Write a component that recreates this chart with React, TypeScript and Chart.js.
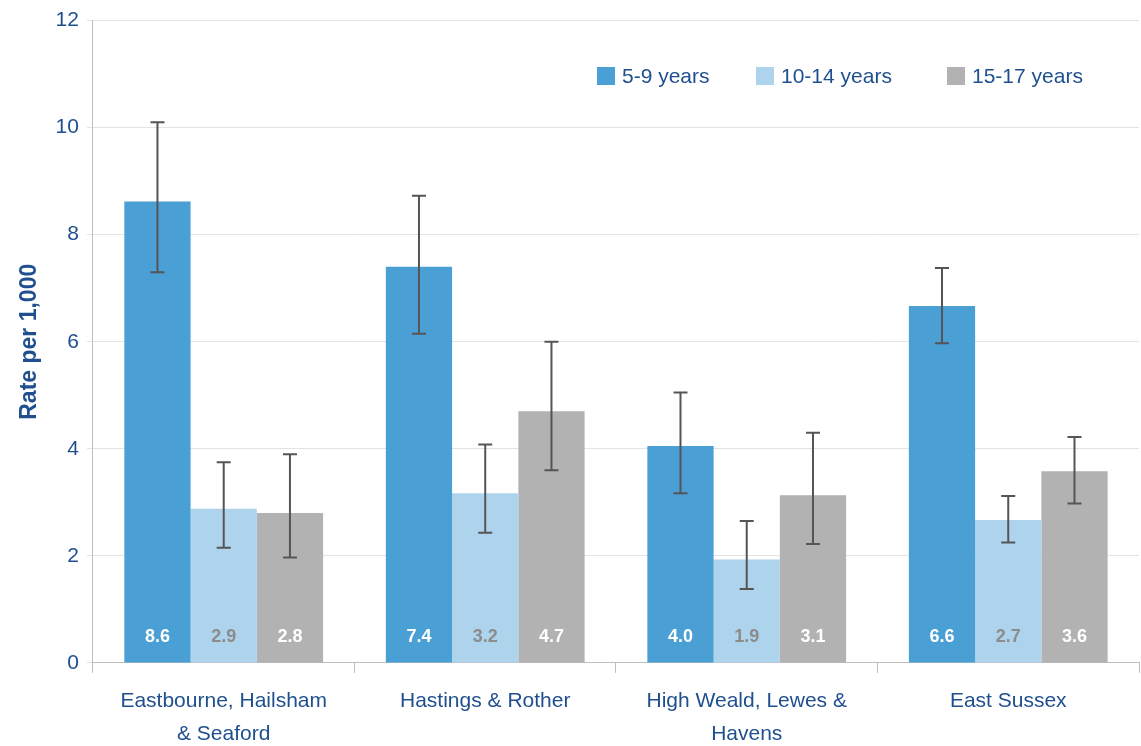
import React, { useEffect, useRef } from "react";
import { Chart, registerables } from "chart.js";
Chart.register(...registerables);

const categories = [["Eastbourne, Hailsham", "& Seaford"], ["Hastings & Rother"], ["High Weald, Lewes &", "Havens"], ["East Sussex"]];
const seriesNames = ["5-9 years", "10-14 years", "15-17 years"];
const values = [
  [8.62, 7.4, 4.05, 6.67],
  [2.88, 3.17, 1.93, 2.67],
  [2.8, 4.7, 3.13, 3.58],
];
const labels = [
  ["8.6", "7.4", "4.0", "6.6"],
  ["2.9", "3.2", "1.9", "2.7"],
  ["2.8", "4.7", "3.1", "3.6"],
];
const lows = [
  [7.3, 6.15, 3.17, 5.97],
  [2.15, 2.43, 1.38, 2.25],
  [1.97, 3.6, 2.22, 2.98],
];
const highs = [
  [10.1, 8.73, 5.05, 7.38],
  [3.75, 4.08, 2.65, 3.12],
  [3.9, 6.0, 4.3, 4.22],
];
const colors = ["#4a9fd5", "#aed3ec", "#b2b2b2"];
const labelColors = ["#ffffff", "#8c8c8c", "#ffffff"];
const axisColor = "#1f4f8f";
const font = "'Liberation Sans', Arial, sans-serif";

const extras = {
  id: "extras",
  afterDatasetsDraw(chart: any) {
    const ctx = chart.ctx;
    const y = chart.scales.y;
    const xs = chart.scales.x;
    ctx.save();
    chart.data.datasets.forEach((ds: any, i: number) => {
      const meta = chart.getDatasetMeta(i);
      meta.data.forEach((bar: any, j: number) => {
        const x = bar.x;
        const yl = y.getPixelForValue(lows[i][j]);
        const yh = y.getPixelForValue(highs[i][j]);
        ctx.strokeStyle = "#555555";
        ctx.lineWidth = 2;
        ctx.beginPath();
        ctx.moveTo(x, yl); ctx.lineTo(x, yh);
        ctx.moveTo(x - 7, yl); ctx.lineTo(x + 7, yl);
        ctx.moveTo(x - 7, yh); ctx.lineTo(x + 7, yh);
        ctx.stroke();
        ctx.fillStyle = labelColors[i];
        ctx.font = `bold 18px ${font}`;
        ctx.textAlign = "center";
        ctx.textBaseline = "middle";
        ctx.fillText(labels[i][j], x, y.getPixelForValue(0) - 26);
      });
    });
    // category labels
    const base = y.getPixelForValue(0);
    ctx.font = `21px ${font}`;
    ctx.fillStyle = axisColor;
    ctx.textAlign = "center";
    ctx.textBaseline = "middle";
    categories.forEach((lines, j) => {
      const cx = xs.getPixelForValue(j);
      lines.forEach((t, k) => ctx.fillText(t, cx, base + 38 + k * 33));
    });
    const lx = [597, 756, 947];
    ctx.textAlign = "left";
    seriesNames.forEach((n, i) => {
      ctx.fillStyle = colors[i];
      ctx.fillRect(lx[i], 67, 18, 18);
      ctx.fillStyle = axisColor;
      ctx.fillText(n, lx[i] + 25, 77);
    });
    ctx.restore();
  },
};

export default function App() {
  const ref = useRef<HTMLCanvasElement>(null);
  useEffect(() => {
    document.body.style.margin = "0";
    const chart = new Chart(ref.current!, {
      type: "bar",
      data: {
        labels: categories as any,
        datasets: values.map((v, i) => ({
          label: seriesNames[i],
          data: v,
          backgroundColor: colors[i],
          categoryPercentage: 0.76,
          barPercentage: 1,
        })),
      },
      options: {
        animation: false,
        responsive: false,
        layout: { padding: { top: 9, right: 2, left: 12, bottom: 0 } },
        plugins: { legend: { display: false }, tooltip: { enabled: false } },
        scales: {
          x: {
            grid: { offset: true, drawOnChartArea: false, color: "#bfbfbf", tickLength: 10, lineWidth: 1 },
            border: { color: "#bfbfbf" },
            ticks: { color: "rgba(0,0,0,0)", font: { size: 21, family: font, lineHeight: 1.55 }, padding: 4 },
          },
          y: {
            min: 0, max: 12,
            ticks: { stepSize: 2, color: axisColor, font: { size: 21, family: font }, padding: 8 },
            grid: { color: "#e3e3e3", tickLength: 6 },
            border: { color: "#bfbfbf" },
            title: { display: true, text: "Rate per 1,000", color: axisColor, font: { size: 23, weight: "bold", family: font } },
          },
        },
      },
      plugins: [extras],
    });
    return () => chart.destroy();
  }, []);
  return <canvas ref={ref} width={1141} height={746} style={{ display: "block" }} />;
}
